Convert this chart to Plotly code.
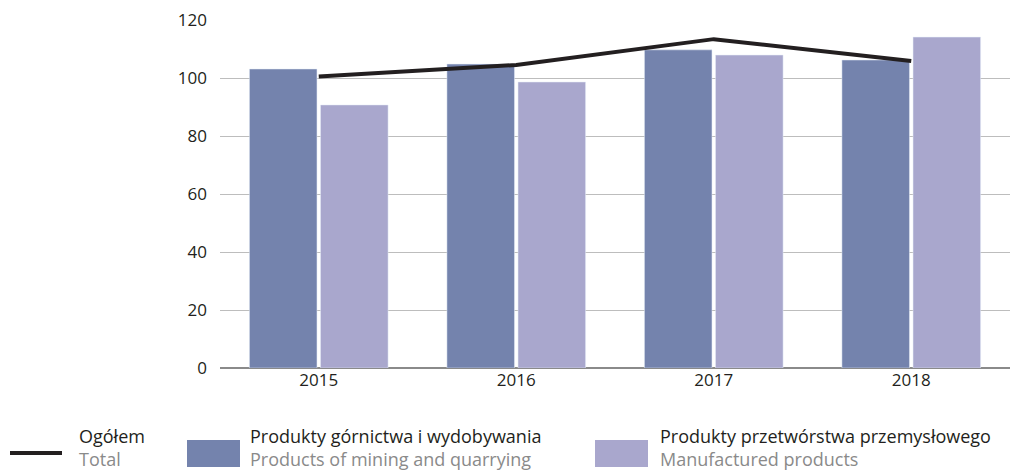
import plotly.graph_objects as go

years = ["2015", "2016", "2017", "2018"]
mining = [103.1, 104.8, 109.7, 106.2]
manufactured = [90.7, 98.6, 107.9, 114.1]
total = [100.5, 104.5, 113.4, 105.9]

C_MIN = "#7483ad"
C_MAN = "#a9a7cd"
C_TOT = "#231f20"
C_SUB = "#8a8a8a"
FONT = "Open Sans"

W, H = 1016, 472
L, R, T, B = 220, 6, 20, 104
pw, ph = W - L - R, H - T - B

def px(x):
    return (x - L) / pw

def py(y):
    return (H - B - y) / ph

fig = go.Figure()
fig.add_bar(x=years, y=mining, marker_color=C_MIN, name="mining", showlegend=False)
fig.add_bar(x=years, y=manufactured, marker_color=C_MAN, name="manufactured", showlegend=False)
fig.add_scatter(x=years, y=total, mode="lines", line=dict(color=C_TOT, width=4), name="total", showlegend=False)

shapes = [
    dict(type="line", xref="paper", yref="paper", x0=px(10), x1=px(62), y0=py(453), y1=py(453),
         line=dict(color=C_TOT, width=4)),
    dict(type="rect", xref="paper", yref="paper", x0=px(187), x1=px(240), y0=py(467), y1=py(440),
         fillcolor=C_MIN, line=dict(width=0)),
    dict(type="rect", xref="paper", yref="paper", x0=px(595), x1=px(648), y0=py(467), y1=py(440),
         fillcolor=C_MAN, line=dict(width=0)),
]

def legtext(x, main, sub):
    return dict(xref="paper", yref="paper", x=px(x), y=py(471.5), xanchor="left", yanchor="bottom",
                showarrow=False, align="left", borderpad=0,
                text=f"{main}<br><span style='color:{C_SUB}'>{sub}</span>",
                font=dict(family=FONT, size=18, color=C_TOT))

annotations = [
    legtext(78, "Ogółem", "Total"),
    legtext(249, "Produkty górnictwa i wydobywania", "Products of mining and quarrying"),
    legtext(659, "Produkty przetwórstwa przemysłowego", "Manufactured products"),
]

fig.update_layout(
    width=W, height=H,
    margin=dict(l=L, r=R, t=T, b=B),
    paper_bgcolor="white", plot_bgcolor="white",
    barmode="group", bargap=0.28, bargroupgap=0.05,
    font=dict(family=FONT, size=17, color=C_TOT),
    shapes=shapes, annotations=annotations,
    showlegend=False,
)
fig.update_xaxes(showgrid=False, showline=False, ticks="", tickfont=dict(size=17))
fig.update_yaxes(range=[0, 120], dtick=20, showgrid=True, gridcolor="#bdbdbd", gridwidth=1,
                 zeroline=True, zerolinecolor="#8a8a8a", zerolinewidth=1.5,
                 ticks="", ticklabelstandoff=12, tickfont=dict(size=17))

fig.write_html("out.html", config={"displayModeBar": False},
               post_script="document.body.style.margin='0px';")
